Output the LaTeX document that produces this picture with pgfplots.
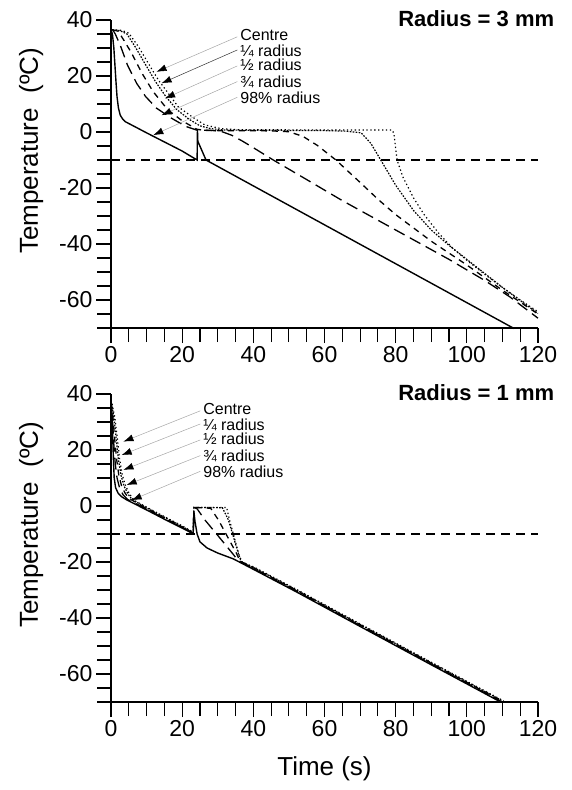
\documentclass[border=0pt]{standalone}
\usepackage{fontspec}
\setmainfont{Liberation Sans}
\usepackage{pgfplots}
\pgfplotsset{compat=1.18}
\usetikzlibrary{arrows.meta}

\pgfplotsset{
  myaxis/.style={
    scale only axis, width=427bp, height=308bp,
    xmin=0, xmax=120, ymin=-70, ymax=40,
    axis x line*=bottom, axis y line*=left,
    axis line style={line width=2bp, -},
    xtick={0,20,...,120}, ytick={-60,-40,...,40},
    minor xtick={0,5,...,120}, minor ytick={-70,-65,...,40},
    tick align=outside,
    major tick length=15bp, minor tick length=14bp,
    every tick/.style={black, line width=1.1bp},
    tick label style={font=\fontsize{23bp}{27bp}\selectfont},
    /pgf/number format/assume math mode=true,
    ylabel={Temperature\ \ (ºC)},
    ylabel style={font=\fontsize{26bp}{30bp}\selectfont, at={(rel axis cs:-0.187,0.575)}, anchor=center},
    clip=false,
  },
}
\tikzset{
  solidL/.style={black, line width=1.4bp},
  longL/.style={black, line width=1.3bp, dash pattern=on 12bp off 6bp},
  medL/.style={black, line width=1.3bp, dash pattern=on 6bp off 5bp},
  quartL/.style={black, line width=1.2bp, dash pattern=on 1.6bp off 1.4bp},
  centL/.style={black, line width=1.2bp, dash pattern=on 1.3bp off 2.6bp},
  thrL/.style={black, line width=1.5bp, dash pattern=on 9bp off 6bp},
  annot/.style={font=\fontsize{16bp}{18bp}\selectfont, anchor=base west, inner sep=0pt},
  arr/.style={gray!70, line width=0.5bp, -{Latex[length=10bp,width=7bp,color=black]}},
  ttl/.style={font=\bfseries\fontsize{22bp}{26bp}\selectfont, anchor=base east, inner sep=0pt},
}

\begin{document}
\begin{tikzpicture}
\path[use as bounding box] (0,0) rectangle (572bp,-790bp);

% ---------------- Radius = 3 mm ----------------
\begin{axis}[myaxis, at={(111bp,-328bp)}, anchor=south west]
\addplot[thrL] coordinates {(0,-10) (120,-10)};
% 98% radius
\addplot[solidL] coordinates {(0,36.5) (0.4,35) (0.8,30) (1.1,24) (1.4,18) (1.7,12.5) (2.1,8.5) (2.6,6) (3.3,4.6) (4,3.7) (10,-0.3) (16,-4.2) (20,-6.8) (24.2,-10) (24.3,0.6) (24.4,-3.3) (26.7,-10) (50,-26.2) (70,-40.1) (90,-54) (113.3,-70.2)};
% 3/4 radius
\addplot[longL] coordinates {(0.5,36.5) (1.2,35) (2.6,31) (4.6,24) (7.2,17.4) (9.7,12.7) (12.8,8.5) (16.9,5) (21,2) (24.3,0.6) (28,0.6) (31,0.2) (34,-1.2) (37,-3.3) (40,-5.6) (45.6,-10) (55,-17) (65,-24.5) (75,-31.5) (85,-38.5) (95,-45.5) (105,-53) (112,-58.8) (120,-66.5)};
% 1/2 radius
\addplot[medL] coordinates {(0.5,36.5) (2,36) (3.5,33) (5.6,28.6) (8.7,21) (11.8,14.5) (15.9,8) (20,4) (24.1,1) (26,0.6) (30,0.5) (45,0.4) (50,0.1) (54,-1.6) (58,-4.8) (63.2,-10) (70,-18) (75,-24) (80,-29.5) (90,-39) (100,-47.5) (110,-56.5) (120,-65)};
% 1/4 radius
\addplot[quartL] coordinates {(0.3,36.5) (2.5,36.2) (4.5,35) (7,30) (9.5,24.5) (12.5,18) (15.5,12.5) (18.5,8) (22,4.5) (25,2.2) (28,1.2) (32,0.7) (60,0.5) (66,0.3) (70.3,-0.3) (73,-4) (75.8,-10) (80,-19) (85,-28) (90,-35) (95,-40.5) (100,-45.5) (110,-55.5) (120,-64.8)};
% Centre
\addplot[centL] coordinates {(0.3,36.5) (3,36.3) (5,35.3) (7.7,30.5) (10.5,24.5) (13.3,18.6) (16.1,13.8) (18.9,9) (22.7,5.5) (26.4,2.5) (31,1.2) (36,0.8) (79,0.7) (79.5,-0.5) (80.4,-10) (82,-16) (85,-23.5) (88,-29.5) (92,-36) (96,-41.5) (100,-45.8) (105,-50.8) (110,-55.5) (115,-60) (120,-64.2)};

\node[ttl] at (axis cs:124.6,37.6) {Radius = 3 mm};

\node[annot] at (axis cs:36.3,32.6) {Centre};
\node[annot] at (axis cs:36.3,27.1) {¼ radius};
\node[annot] at (axis cs:36.3,21.9) {½ radius};
\node[annot] at (axis cs:36.3,16.0) {¾ radius};
\node[annot] at (axis cs:36.3,10.2) {98\% radius};
\draw[arr] (axis cs:35.5,34.0) -- (axis cs:12.8,21.5);
\draw[arr, draw=black!80] (axis cs:35.5,29.3) -- (axis cs:14.2,17.4);
\draw[arr] (axis cs:35.5,23.6) -- (axis cs:15.2,12.0);
\draw[arr] (axis cs:35.5,18.0) -- (axis cs:14.2,6.0);
\draw[arr] (axis cs:35.5,12.4) -- (axis cs:11.9,-1.1);
\end{axis}

% ---------------- Radius = 1 mm ----------------
\begin{axis}[myaxis, at={(111bp,-702bp)}, anchor=south west,
  xlabel={Time (s)},
  xlabel style={font=\fontsize{26bp}{30bp}\selectfont, at={(rel axis cs:0.5,0)}, anchor=center, yshift=-67bp}]
\addplot[thrL] coordinates {(0,-10) (120,-10)};
% 98% radius
\addplot[solidL] coordinates {(0,36.5) (0.3,32) (0.5,24) (0.7,16) (0.9,10) (1.3,6.5) (2,4.6) (3,3.3) (4.4,2.2) (10,-1.4) (15,-4.7) (20,-7.9) (23.1,-9.9) (23.3,-2) (23.6,-5.5) (24.2,-10) (25,-12.8) (27,-15) (30,-16.8) (34.4,-18.9) (40,-22.6) (52,-30.6) (70,-43) (90,-56.7) (109.5,-70)};
% 3/4 radius
\addplot[longL] coordinates {(0,36.5) (0.4,31) (0.8,22) (1.2,15) (1.7,10) (2.4,6.5) (3.4,4) (4.6,2.4) (10,-1.1) (15,-4.5) (20,-7.7) (23.1,-9.8) (23.3,-0.5) (24.2,-1) (26.4,-5) (30,-10.5) (34.5,-17.5) (35.5,-19.2) (40,-22.3) (52,-30.3) (70,-42.7) (90,-56.4) (109.9,-70)};
% 1/2 radius
\addplot[medL] coordinates {(0.1,36.5) (0.6,31) (1.1,23) (1.6,16.5) (2.2,11) (3,7) (4,4.5) (5.2,2.6) (10,-0.9) (15,-4.3) (20,-7.5) (23.1,-9.7) (23.3,-0.5) (28,-0.8) (30.2,-5) (35.3,-17) (36.2,-19.6) (40,-22.1) (52,-30.1) (70,-42.5) (90,-56.2) (110,-69.8)};
% 1/4 radius
\addplot[quartL] coordinates {(0.2,36.5) (0.9,31) (1.5,23.5) (2.1,16.5) (2.8,11) (3.7,7) (4.8,4.2) (6,2.2) (10,-0.6) (15,-4) (20,-7.3) (23.1,-9.5) (23.3,-0.5) (31.3,-0.6) (33,-5) (35.8,-17) (36.6,-20) (40,-21.9) (52,-29.9) (70,-42.3) (90,-56) (110,-69.6)};
% Centre
\addplot[centL] coordinates {(0.3,36.5) (1.1,31.5) (1.8,24) (2.4,17) (3.1,11.5) (4,7.5) (5.1,4.5) (6.5,2) (10,-0.4) (15,-3.8) (20,-7.1) (23.1,-9.3) (23.3,-0.5) (32.5,-0.5) (33.3,-5) (36,-17.5) (36.8,-20) (40,-21.7) (52,-29.7) (70,-42.1) (90,-55.8) (110.3,-69.6)};

\node[ttl] at (axis cs:124.6,37.6) {Radius = 1 mm};

\node[annot] at (axis cs:25.9,32.6) {Centre};
\node[annot] at (axis cs:25.9,27.1) {¼ radius};
\node[annot] at (axis cs:25.9,21.9) {½ radius};
\node[annot] at (axis cs:25.9,16.0) {¾ radius};
\node[annot] at (axis cs:25.9,10.2) {98\% radius};
\draw[arr] (axis cs:25.1,34.0) -- (axis cs:3.5,23.0);
\draw[arr] (axis cs:25.1,29.3) -- (axis cs:3.0,18.2);
\draw[arr] (axis cs:25.1,23.6) -- (axis cs:3.5,12.9);
\draw[arr] (axis cs:25.1,18.0) -- (axis cs:4.4,7.5);
\draw[arr] (axis cs:25.1,12.4) -- (axis cs:5.8,2.1);
\end{axis}
\end{tikzpicture}
\end{document}
